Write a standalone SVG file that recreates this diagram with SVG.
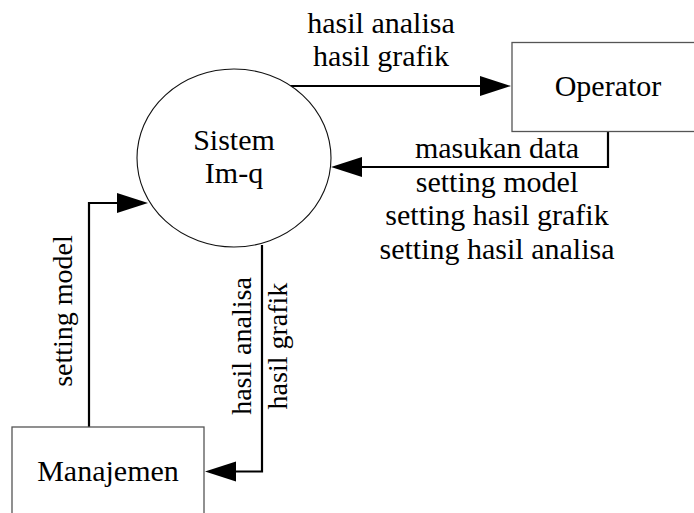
<svg xmlns="http://www.w3.org/2000/svg" width="694" height="513" viewBox="0 0 694 513">
  <style>
    .box { fill: #fff; stroke: #555; stroke-width: 1.3; }
    .proc { fill: #fff; stroke: #111; stroke-width: 1.1; }
    .flow { fill: none; stroke: #000; stroke-width: 2.2; }
    .head { fill: #000; }
  </style>
  <rect width="694" height="513" fill="#fff"/>

  <g id="connectors">
    <path class="flow" d="M290,86 H490"/>
    <polygon class="head" points="480,76 511,86 480,96"/>
    <path class="flow" d="M608,131.5 V167 H350"/>
    <polygon class="head" points="362,157 331,167 362,177"/>
    <path class="flow" d="M89,427 V203 H130"/>
    <polygon class="head" points="117,193 148,203 117,213"/>
    <path class="flow" d="M262,245 V471.5 H225"/>
    <polygon class="head" points="236,461.5 205,471.5 236,481.5"/>
  </g>

  <g id="sistem">
    <ellipse class="proc" cx="234" cy="158" rx="97" ry="89"/>
    <text x="234" y="150" font-size="30" font-family="'Liberation Serif'" text-anchor="middle">Sistem</text>
    <text x="234" y="183" font-size="30" font-family="'Liberation Serif'" text-anchor="middle">Im-q</text>
  </g>

  <g id="operator">
    <rect class="box" x="512" y="42.5" width="192" height="89"/>
    <text x="608" y="96" font-size="30" font-family="'Liberation Serif'" text-anchor="middle">Operator</text>
  </g>

  <g id="manajemen">
    <rect class="box" x="12" y="427" width="192" height="89"/>
    <text x="108" y="481" font-size="30" font-family="'Liberation Serif'" text-anchor="middle">Manajemen</text>
  </g>

  <g id="labels">
    <text x="381" y="33" font-size="30" font-family="'Liberation Serif'" text-anchor="middle">hasil analisa</text>
    <text x="381" y="66" font-size="30" font-family="'Liberation Serif'" text-anchor="middle">hasil grafik</text>
    <text x="497" y="158" font-size="30" font-family="'Liberation Serif'" text-anchor="middle">masukan data</text>
    <text x="497" y="191.5" font-size="30" font-family="'Liberation Serif'" text-anchor="middle">setting model</text>
    <text x="497" y="225" font-size="30" font-family="'Liberation Serif'" text-anchor="middle">setting hasil grafik</text>
    <text x="497" y="258.5" font-size="30" font-family="'Liberation Serif'" text-anchor="middle">setting hasil analisa</text>
    <text transform="translate(72,311) rotate(-90)" font-size="28" font-family="'Liberation Serif'" text-anchor="middle">setting model</text>
    <text transform="translate(251,346) rotate(-90)" font-size="28" font-family="'Liberation Serif'" text-anchor="middle">hasil analisa</text>
    <text transform="translate(287,346) rotate(-90)" font-size="28" font-family="'Liberation Serif'" text-anchor="middle">hasil grafik</text>
  </g>
</svg>
